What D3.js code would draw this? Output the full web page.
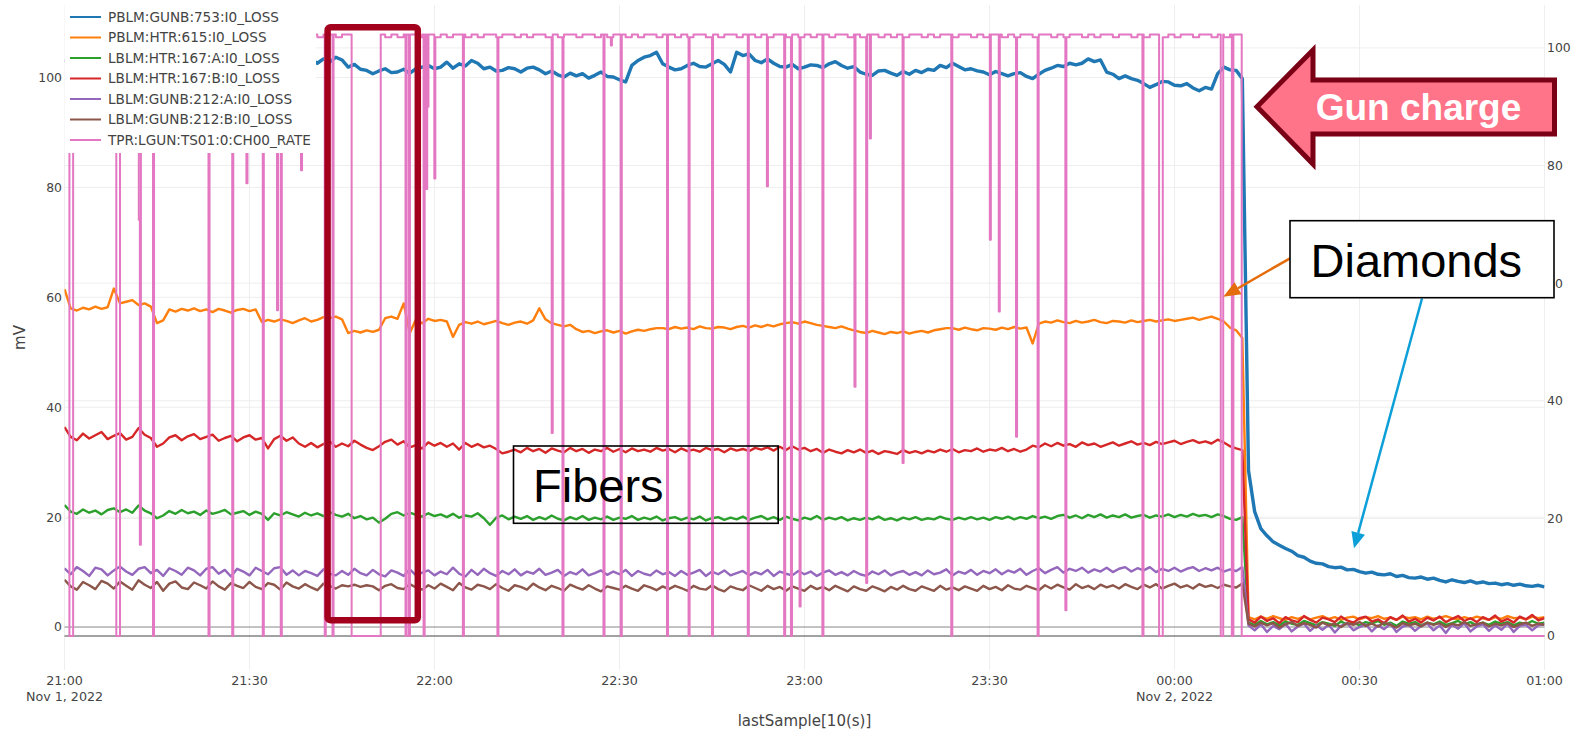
<!DOCTYPE html>
<html>
<head>
<meta charset="utf-8">
<script src="https://cdn.jsdelivr.net/npm/d3@7"></script>
<style>
  html, body { margin: 0; padding: 0; background: #fff; }
  svg { display: block; }
</style>
</head>
<body>
<svg id="chart" width="1583" height="731"></svg>
<script>
// ---------------------------------------------------------------
// Beam-loss monitor readings, one sample per minute from 21:00 (Nov 1)
// to 01:00 (Nov 2); index = minutes after 21:00.
// ---------------------------------------------------------------
const seriesNames = [
  "PBLM:GUNB:753:I0_LOSS",
  "PBLM:HTR:615:I0_LOSS",
  "LBLM:HTR:167:A:I0_LOSS",
  "LBLM:HTR:167:B:I0_LOSS",
  "LBLM:GUNB:212:A:I0_LOSS",
  "LBLM:GUNB:212:B:I0_LOSS",
  "TPR:LGUN:TS01:0:CH00_RATE"
];

const pblmGunb753 = [
  103.2,102.6,103.5,102.9,103.8,103.1,102.7,103.4,102.8,103.6,
  103.0,102.5,103.3,102.9,103.7,103.1,102.6,103.4,103.0,102.7,
  103.5,102.9,103.2,102.6,103.6,103.0,102.8,103.4,102.7,103.3,
  103.0,103.6,102.8,103.2,102.5,103.4,102.9,103.1,103.7,102.8,
  103.3,102.6,103.4,102.8,103.7,103.2,101.9,102.4,101.5,101.3,
  100.7,101.2,101.6,100.9,101.0,101.5,100.8,101.6,101.9,102.2,
  101.6,101.9,102.8,101.7,102.5,102.1,103.1,102.6,101.6,101.9,
  101.2,101.3,101.8,101.6,101.0,101.7,101.9,101.4,100.7,101.2,
  100.5,100.1,100.8,100.3,100.7,99.9,100.4,101.0,100.2,100.1,
  99.6,99.2,102.2,103.1,103.7,104.0,104.6,102.5,101.9,101.4,
  101.6,102.2,102.6,102.0,101.9,102.5,103.1,102.4,101.0,104.6,
  104.0,104.3,103.1,102.7,103.4,102.6,102.0,101.9,102.4,101.6,
  101.9,102.3,102.2,101.8,102.5,102.9,102.2,101.7,102.0,101.0,
  100.6,100.4,101.2,101.3,100.8,100.4,101.1,100.6,101.3,100.9,
  101.5,101.3,102.2,101.8,102.6,102.0,101.4,101.6,101.2,101.0,
  100.5,101.1,100.7,100.3,100.7,100.9,100.2,99.8,100.6,101.3,
  101.7,102.2,102.0,102.6,102.3,102.6,103.4,102.9,103.2,101.0,
  100.6,99.8,100.3,99.8,99.5,98.9,98.2,98.7,99.3,99.2,
  98.6,98.5,98.9,98.1,97.6,98.2,97.9,100.7,101.9,101.4,
  101.3,99.8,28.5,21.0,17.9,16.6,15.5,14.9,14.3,13.8,
  13.0,12.7,12.0,11.6,11.5,11.0,10.8,10.9,10.4,10.5,
  10.1,9.8,10.0,9.6,9.5,9.7,9.2,9.4,9.0,8.9,
  9.1,8.7,8.9,8.5,8.2,8.6,8.3,8.1,8.4,8.0,
  8.2,7.9,8.0,7.7,7.9,7.6,7.8,7.5,7.4,7.6,
  7.3
];

const pblmHtr615 = [
  61.5,58.0,57.6,58.1,57.8,58.3,57.9,58.2,61.6,58.9,
  59.2,59.5,58.6,58.9,58.3,55.3,55.8,57.8,57.4,57.9,
  57.6,58.0,57.5,57.8,57.3,57.9,57.6,57.2,57.7,57.9,
  57.5,57.8,55.5,55.9,55.6,56.0,55.7,55.3,55.8,56.2,
  55.6,55.9,56.4,56.2,56.5,56.0,53.5,53.9,53.6,54.0,
  53.7,54.1,56.2,56.5,56.1,58.9,53.5,56.0,55.3,56.1,
  55.7,55.9,55.6,52.8,55.0,55.5,55.2,55.6,55.1,55.4,
  55.7,55.3,55.0,55.4,55.6,55.2,55.8,58.0,56.0,55.3,
  55.0,54.7,55.0,54.2,53.7,53.9,53.5,53.8,54.0,53.6,
  53.9,53.4,53.8,54.1,53.9,54.2,54.4,54.4,54.2,54.6,
  54.3,54.5,54.2,54.7,54.4,54.3,54.6,54.5,54.2,54.6,
  54.8,54.5,54.9,54.6,55.0,54.7,55.1,55.3,55.5,55.2,
  55.6,55.3,55.0,54.8,54.6,54.4,54.7,54.3,54.0,53.7,
  53.5,53.9,53.6,53.3,53.7,53.5,53.8,53.4,53.7,53.9,
  53.6,54.0,54.2,54.4,54.4,54.1,54.5,54.2,54.0,54.4,
  54.3,54.1,54.5,54.2,54.6,54.3,54.5,51.6,55.2,55.6,
  55.4,55.8,55.5,55.3,55.7,55.4,55.6,55.9,55.5,55.3,
  55.7,55.6,55.4,55.8,55.5,55.7,55.9,55.6,55.8,56.0,
  55.7,55.9,56.1,56.3,55.9,56.2,56.5,56.1,55.6,54.5,
  54.0,52.6,1.8,1.4,1.9,1.5,2.0,1.6,1.3,1.8,
  1.5,1.9,1.4,1.7,2.0,1.5,1.8,1.3,1.7,1.9,
  1.4,1.8,1.6,2.0,1.5,1.7,1.3,1.9,1.6,1.8,
  1.4,1.9,1.5,1.7,2.0,1.6,1.4,1.8,1.5,1.9,
  1.6,1.3,1.8,1.5,2.0,1.6,1.7,1.4,1.9,1.6,
  1.8
];

const lblmHtr167A = [
  22.2,21.0,20.6,21.4,20.8,21.2,20.5,21.3,21.6,20.9,
  21.4,20.8,22.1,21.2,20.7,19.8,20.3,21.1,20.6,21.3,
  20.7,21.0,20.4,21.2,20.6,20.9,21.3,20.5,20.8,21.1,
  20.4,21.0,20.6,19.5,20.7,20.3,20.9,20.5,20.1,20.8,
  20.3,20.7,20.2,20.9,20.4,20.1,20.6,19.8,20.2,19.6,
  19.9,19.0,19.7,20.6,20.9,20.3,20.8,20.4,20.1,20.7,
  20.2,20.5,20.0,20.6,19.9,20.3,20.1,20.7,19.8,18.6,
  19.9,20.3,19.6,20.1,19.7,20.2,19.5,20.0,19.6,20.3,
  19.7,19.4,20.0,19.6,20.2,19.5,19.9,19.6,20.1,19.5,
  19.9,19.7,20.2,19.5,19.9,19.6,20.1,19.4,19.8,20.0,
  19.5,19.9,19.6,20.1,19.4,19.8,20.0,19.5,19.9,19.6,
  20.1,19.5,19.9,20.2,19.6,20.0,19.5,20.1,19.7,19.4,
  19.9,19.6,20.2,19.5,19.9,19.6,20.0,19.4,19.8,19.5,
  19.9,19.6,20.1,19.5,19.8,19.4,19.9,19.6,20.0,19.5,
  19.8,19.6,20.1,19.7,19.5,19.9,19.6,20.0,19.6,19.9,
  19.5,20.0,19.7,20.1,19.6,20.0,19.7,20.2,19.8,20.1,
  19.7,20.2,20.4,19.9,20.3,19.8,20.4,20.0,20.5,19.9,
  20.3,20.0,20.5,19.9,20.2,20.4,19.9,20.3,20.1,20.5,
  20.0,20.4,20.1,20.6,20.2,20.4,20.0,20.5,20.2,19.7,
  19.5,20.0,0.8,0.4,1.1,0.5,0.9,0.3,1.0,0.6,
  0.4,1.1,0.7,0.3,0.9,0.6,0.2,1.0,0.5,0.8,
  0.3,0.9,0.6,1.1,0.4,0.8,0.2,1.0,0.6,0.9,
  0.3,0.8,0.5,1.0,0.4,0.7,1.1,0.5,0.9,0.3,
  0.8,0.4,1.0,0.6,0.9,0.3,0.8,0.5,1.1,0.6,
  0.8
];

const lblmHtr167B = [
  36.4,34.6,34.0,35.2,34.3,34.9,35.5,34.2,34.8,35.3,
  34.1,34.6,36.2,35.0,34.4,32.8,33.4,34.5,34.9,34.0,
  34.7,35.1,34.2,34.6,35.0,33.9,34.4,34.8,33.8,34.5,
  34.9,34.1,34.4,32.5,34.2,34.8,33.9,34.5,33.4,32.8,
  33.5,32.7,33.3,33.8,32.8,33.4,32.9,33.9,33.2,32.6,
  32.2,32.9,33.7,34.1,33.2,33.8,32.7,33.1,32.5,33.6,
  33.0,33.5,32.8,33.4,32.3,33.5,32.8,33.3,32.7,33.0,
  32.4,31.6,31.9,32.3,31.8,32.6,32.0,32.4,31.7,32.5,
  32.1,31.8,32.6,32.0,32.4,31.7,32.3,32.0,32.6,31.9,
  32.4,31.8,32.5,32.0,32.3,31.9,32.6,32.1,32.4,31.8,
  32.5,32.0,32.3,31.9,32.6,32.2,32.4,31.8,32.5,32.1,
  32.4,32.0,32.6,32.3,32.7,32.1,32.8,32.2,32.9,32.3,
  32.6,32.0,32.4,31.7,32.3,31.9,31.6,32.2,31.8,32.3,
  31.7,32.1,31.5,32.0,31.8,31.5,32.2,31.7,32.0,31.6,
  32.1,31.8,32.3,31.9,32.4,31.8,32.2,32.0,32.5,31.9,
  32.3,32.1,32.6,32.0,32.4,31.9,32.3,33.0,32.7,33.4,
  32.9,33.5,33.0,33.3,32.8,33.6,33.1,33.4,32.8,33.2,
  33.6,33.0,33.4,33.8,33.2,33.5,33.1,33.7,33.3,33.6,
  33.9,33.3,33.7,34.0,33.5,33.8,33.4,34.1,33.6,32.9,
  32.5,32.2,1.4,0.8,1.9,1.1,1.6,0.7,1.8,1.2,
  0.9,2.0,1.3,0.8,1.7,1.4,0.9,1.9,1.2,0.8,
  1.6,1.9,1.0,1.4,0.7,1.8,1.3,2.1,1.0,1.5,
  0.8,1.7,1.2,1.9,0.9,1.5,2.0,1.1,1.6,0.9,
  1.8,1.3,2.1,1.0,1.5,0.8,1.9,1.4,2.2,1.2,
  1.6
];

const lblmGunb212A = [
  10.7,9.6,10.9,10.2,9.3,10.8,10.5,9.4,10.3,11.0,
  10.1,9.5,10.6,10.9,9.8,10.4,9.3,10.7,10.2,9.5,
  10.8,10.3,9.4,10.6,10.9,9.7,10.4,9.2,10.6,10.1,
  9.4,10.8,10.2,9.6,10.7,10.9,9.5,10.3,9.4,10.2,
  9.8,9.3,10.5,9.7,9.4,10.2,9.5,10.6,9.8,9.4,
  10.4,9.6,9.2,10.3,9.9,9.3,10.5,9.4,9.9,10.3,
  9.4,10.1,9.6,10.8,9.7,9.2,10.4,9.5,10.6,9.8,
  9.3,10.2,9.6,10.5,9.4,10.1,9.7,10.6,9.5,9.9,
  10.4,9.3,10.0,9.6,10.5,9.4,9.8,10.3,9.5,10.1,
  9.6,10.4,9.3,10.2,9.7,9.4,10.3,9.6,10.0,9.3,
  10.2,9.5,9.9,10.4,9.3,10.1,9.6,10.3,9.4,9.8,
  10.2,9.4,10.0,9.6,10.4,9.3,10.1,9.7,9.4,10.2,
  9.6,10.1,9.3,9.9,10.3,9.5,10.0,9.4,10.2,9.6,
  9.3,10.1,9.6,10.3,9.4,9.9,10.2,9.5,10.0,9.4,
  10.3,9.6,9.9,10.5,9.4,10.1,9.7,10.4,9.5,10.2,
  9.8,10.5,9.6,10.3,9.9,10.6,9.5,10.2,10.7,9.8,
  10.4,10.9,9.9,10.6,10.2,10.8,9.9,10.5,10.1,10.8,
  10.0,10.6,10.9,10.1,10.7,10.3,10.9,10.0,10.6,10.2,
  10.8,10.1,10.6,10.9,10.2,10.7,10.3,10.8,10.1,10.5,
  10.2,10.9,0.3,-0.6,0.5,-0.9,0.2,-0.4,0.6,-0.8,
  0.1,0.6,-0.7,0.3,-0.5,0.4,-1.0,0.2,0.7,-0.6,
  0.0,0.5,-0.8,0.3,-0.4,0.6,-0.9,0.1,0.4,-0.7,
  0.2,0.6,-0.6,0.3,-1.1,0.4,-0.3,0.7,-0.8,0.1,
  0.5,-0.7,0.3,-0.5,0.6,-0.9,0.2,0.4,-0.6,0.3,
  0.5
];

const lblmGunb212B = [
  8.6,7.4,6.8,8.2,7.6,6.9,8.4,7.9,7.0,8.3,
  7.5,6.8,8.5,7.7,7.1,8.2,6.6,7.9,8.3,7.2,
  6.9,8.1,7.6,7.0,8.3,7.4,6.8,8.0,7.5,7.1,
  8.2,7.3,6.9,8.0,7.7,6.8,8.1,7.4,7.0,7.8,
  7.2,6.7,7.9,7.5,7.0,7.6,7.4,7.7,7.3,7.6,
  7.4,6.7,7.5,7.8,7.1,6.9,7.8,7.2,6.8,7.6,
  7.0,7.9,7.3,6.7,8.0,7.2,6.8,7.7,7.4,6.9,
  7.8,7.1,6.6,7.6,7.3,6.8,7.9,7.2,6.7,7.5,
  7.1,6.6,7.7,7.2,6.8,7.6,7.0,6.5,7.4,7.1,
  6.8,7.5,7.0,6.6,7.6,7.2,6.7,7.4,6.9,7.5,
  7.1,6.6,7.5,7.0,6.8,7.6,6.9,6.5,7.4,7.0,
  6.7,7.6,7.1,6.6,7.5,6.9,7.3,6.6,7.4,7.0,
  6.6,7.5,6.9,7.3,6.7,7.5,7.0,6.5,7.4,6.9,
  6.6,7.4,7.0,6.5,7.3,6.8,7.5,6.9,6.6,7.4,
  7.0,6.6,7.5,6.8,7.2,6.7,7.4,7.0,6.6,7.5,
  6.9,7.3,6.7,7.6,7.0,6.8,7.5,7.1,6.7,7.6,
  7.0,7.7,7.2,6.8,7.8,7.1,7.5,6.9,7.7,7.2,
  7.6,7.0,7.8,7.3,6.9,7.7,7.2,7.8,7.0,7.5,
  7.9,7.2,7.6,7.0,7.8,7.3,7.6,7.1,7.7,7.4,
  7.2,7.9,0.6,0.1,0.8,0.3,0.7,-0.1,0.5,0.9,
  0.2,0.7,0.4,-0.1,0.8,0.3,0.6,0.0,0.7,0.4,
  0.9,0.2,0.6,0.1,0.8,0.4,-0.1,0.7,0.3,0.6,
  0.1,0.8,0.4,0.7,0.0,0.6,0.3,0.9,0.2,0.5,
  0.8,0.1,0.6,0.3,0.7,0.0,0.5,0.8,0.2,0.6,
  0.4
];

// Trigger rate (right axis): per-minute level while running (minutes 0..190)
const rateLevel = [
  102.3,101.8,102.3,102.3,101.8,102.3,101.8,102.3,102.3,101.8,
  102.3,102.3,101.8,102.3,101.8,102.3,102.3,101.8,102.3,101.8,
  102.3,101.8,102.3,102.3,101.8,102.3,102.3,101.8,102.3,101.8,
  102.3,102.3,101.8,102.3,101.8,102.3,101.8,102.3,102.3,101.8,
  102.3,101.8,102.3,102.3,101.8,102.3,102.3,101.8,102.3,101.8,
  102.3,102.3,101.8,102.3,101.8,102.3,102.3,101.8,102.3,102.3,
  101.8,102.3,101.8,102.3,102.3,101.8,102.3,101.8,102.3,102.3,
  101.8,102.3,102.3,101.8,102.3,101.8,102.3,102.3,101.8,102.3,
  101.8,102.3,102.3,101.8,102.3,102.3,101.8,102.3,101.8,102.3,
  102.3,101.8,102.3,101.8,102.3,102.3,101.8,102.3,102.3,101.8,
  102.3,101.8,102.3,102.3,101.8,102.3,101.8,102.3,102.3,101.8,
  102.3,102.3,101.8,102.3,101.8,102.3,102.3,101.8,102.3,101.8,
  102.3,101.8,102.3,102.3,101.8,102.3,102.3,101.8,102.3,101.8,
  102.3,102.3,101.8,102.3,101.8,102.3,101.8,102.3,102.3,101.8,
  102.3,101.8,102.3,102.3,101.8,102.3,102.3,101.8,102.3,101.8,
  102.3,102.3,101.8,102.3,101.8,102.3,102.3,101.8,102.3,102.3,
  101.8,102.3,101.8,102.3,102.3,101.8,102.3,101.8,102.3,102.3,
  101.8,102.3,102.3,101.8,102.3,101.8,102.3,102.3,101.8,102.3,
  101.8,102.3,102.3,101.8,102.3,102.3,101.8,102.3,101.8,102.3,
  102.3
];

// Rate drop-outs: [start minute, rate during drop-out, duration in minutes]
const rateDropouts = [
  [0.8, 0, 0.6], [8.4, 0, 0.6], [12.05, 70.8, 0.17], [12.22, 15.5, 0.17],
  [14.35, 0, 0.17], [23.35, 0, 0.17], [27.2, 0, 0.17], [29.5, 77, 0.17],
  [32.15, 0, 0.17], [34.46, 55.4, 0.17], [35.07, 0, 0.17], [38.35, 79.2, 0.17],
  [42.2, 0, 0.17], [43.46, 0, 0.17], [46.56, 0, 4.72], [55.3, 0, 0.17],
  [55.85, 0, 0.17], [58.23, 0, 0.17], [58.45, 94, 0.17], [58.65, 76, 0.17],
  [58.85, 90, 0.17], [59.97, 77.8, 0.17], [64.6, 0, 0.17], [70.2, 0, 0.17],
  [79.0, 34.5, 0.17], [80.75, 0, 0.17], [87.4, 0, 0.17], [88.6, 100.4, 0.17],
  [90.2, 0, 0.17], [97.7, 0, 0.17], [101.2, 0, 0.17], [105.0, 0, 0.17],
  [110.8, 0, 0.17], [113.9, 76.5, 0.17], [116.7, 0, 0.17], [117.8, 0, 0.17],
  [119.2, 5.0, 0.17], [122.9, 0, 0.17], [128.1, 42.4, 0.17], [130.0, 9.0, 0.17],
  [130.6, 84.6, 0.17], [135.9, 29.4, 0.17], [143.8, 0, 0.17], [150.05, 67.4, 0.17],
  [151.5, 55.2, 0.17], [154.3, 33.9, 0.17], [157.8, 0, 0.17], [162.3, 4.4, 0.17],
  [174.8, 0, 0.17], [177.5, 0, 0.6], [187.5, 0, 0.4], [189.3, 0, 0.25],
  [190.9, 0, 49.1]
];

const colors = ["#1f77b4", "#ff7f0e", "#2ca02c", "#d62728", "#9467bd", "#8c564b", "#e377c2"];
const lineWidths = [3.4, 2.4, 2.4, 2.4, 2.4, 2.4];

// ---------------------------------------------------------------
// Layout
// ---------------------------------------------------------------
const plot = { left: 64.5, right: 1544.5, top: 5, bottom: 670 };
const startTime = new Date(2022, 10, 1, 21, 0, 0);
const at = m => new Date(startTime.getTime() + m * 60000);

const x = d3.scaleTime().domain([at(0), at(240)]).range([plot.left, plot.right]);
const yL = d3.scaleLinear().domain([-7.82, 113.2]).range([plot.bottom, plot.top]);
const yR = d3.scaleLinear().domain([-5.78, 107.3]).range([plot.bottom, plot.top]);

const tickFont = "DejaVu Sans, Verdana, sans-serif";
const svg = d3.select("#chart");

svg.append("defs").append("clipPath").attr("id", "plotClip")
  .append("rect")
  .attr("x", plot.left).attr("y", plot.top)
  .attr("width", plot.right - plot.left).attr("height", plot.bottom - plot.top);

// Grid
const xTicks = x.ticks(d3.timeMinute.every(30));
const grid = svg.append("g").attr("stroke", "#eee").attr("stroke-width", 1);
grid.selectAll("line.v").data(xTicks).join("line")
  .attr("x1", d => x(d)).attr("x2", d => x(d))
  .attr("y1", plot.top).attr("y2", plot.bottom);
const yTicks = [0, 20, 40, 60, 80, 100];
grid.selectAll("line.hl").data(yTicks.slice(1)).join("line").attr("class", "hl")
  .attr("x1", plot.left).attr("x2", plot.right)
  .attr("y1", d => yL(d)).attr("y2", d => yL(d));
grid.selectAll("line.hr").data(yTicks.slice(1)).join("line").attr("class", "hr")
  .attr("x1", plot.left).attr("x2", plot.right)
  .attr("y1", d => yR(d)).attr("y2", d => yR(d));
svg.append("line").attr("x1", plot.left).attr("x2", plot.right)
  .attr("y1", yL(0)).attr("y2", yL(0)).attr("stroke", "#888").attr("stroke-width", 1);
svg.append("line").attr("x1", plot.left).attr("x2", plot.right)
  .attr("y1", yR(0)).attr("y2", yR(0)).attr("stroke", "#444").attr("stroke-width", 1);

// Traces
const lineL = d3.line().x(d => x(at(d[0]))).y(d => yL(d[1]));
const lineR = d3.line().curve(d3.curveStepAfter).x(d => x(at(d[0]))).y(d => yR(d[1]));
const leftSeries = [pblmGunb753, pblmHtr615, lblmHtr167A, lblmHtr167B, lblmGunb212A, lblmGunb212B];

const traces = svg.append("g").attr("clip-path", "url(#plotClip)").attr("fill", "none");
leftSeries.forEach((vals, i) => {
  traces.append("path")
    .attr("d", lineL(vals.map((v, m) => [m, v])))
    .attr("stroke", colors[i]).attr("stroke-width", lineWidths[i])
    .attr("stroke-linejoin", "round");
});

// Trigger rate: minute levels combined with the drop-out list
const breaks = new Set(d3.range(0, 241));
rateDropouts.forEach(([s, , d]) => { breaks.add(s); breaks.add(+(s + d).toFixed(3)); });
const rateAt = t => {
  const hit = rateDropouts.find(([s, , d]) => t >= s && t < s + d - 1e-9);
  if (hit) return hit[1];
  const lv = rateLevel[Math.floor(t)];
  return lv === undefined ? 0 : lv;
};
const ratePoints = Array.from(breaks).sort((a, b) => a - b).map(t => [t, rateAt(t)]);
traces.append("path")
  .attr("d", lineR(ratePoints))
  .attr("stroke", colors[6]).attr("stroke-width", 2)
  .attr("stroke-linejoin", "round");

// Axes labels
const axisText = svg.append("g").attr("font-family", tickFont).attr("fill", "#444");
axisText.selectAll("text.yl").data(yTicks).join("text")
  .attr("x", 62).attr("y", d => yL(d)).attr("dy", "0.36em")
  .attr("text-anchor", "end").attr("font-size", 12.4).text(d => d);
axisText.selectAll("text.yr").data(yTicks).join("text")
  .attr("x", 1547).attr("y", d => yR(d)).attr("dy", "0.36em")
  .attr("text-anchor", "start").attr("font-size", 12.4).text(d => d);

const fmtTime = d3.timeFormat("%H:%M");
const fmtDay = d3.timeFormat("%b %-d, %Y");
const xt = axisText.selectAll("g.xt").data(xTicks).join("g")
  .attr("transform", d => `translate(${x(d)},0)`);
xt.append("text").attr("y", 684.5).attr("text-anchor", "middle")
  .attr("font-size", 12.7).text(d => fmtTime(d));
xt.filter((d, i) => i === 0 || (d.getHours() === 0 && d.getMinutes() === 0))
  .append("text").attr("y", 701).attr("text-anchor", "middle")
  .attr("font-size", 12.7).text(d => fmtDay(d));

axisText.append("text").attr("x", (plot.left + plot.right) / 2).attr("y", 725.5)
  .attr("text-anchor", "middle").attr("font-size", 15).text("lastSample[10(s)]");
axisText.append("text")
  .attr("transform", `translate(25,${(plot.top + plot.bottom) / 2}) rotate(-90)`)
  .attr("text-anchor", "middle").attr("font-size", 15).text("mV");

// Legend
const legend = svg.append("g");
legend.append("rect").attr("x", plot.left).attr("y", plot.top)
  .attr("width", 316 - plot.left).attr("height", 153 - plot.top).attr("fill", "#fff");
const items = legend.selectAll("g.item").data(seriesNames).join("g")
  .attr("transform", (d, i) => `translate(0,${17 + i * 20.5})`);
items.append("line").attr("x1", 70).attr("x2", 101).attr("y1", 0).attr("y2", 0)
  .attr("stroke", (d, i) => colors[i]).attr("stroke-width", 2);
items.append("text").attr("x", 108).attr("y", 0).attr("dy", "0.36em")
  .attr("font-family", tickFont).attr("font-size", 13.6).attr("fill", "#444")
  .text(d => d);

// ---------------------------------------------------------------
// Callouts
// ---------------------------------------------------------------
const notes = svg.append("g").attr("font-family", "Liberation Sans, Arial, sans-serif");

// highlighted interval
notes.append("rect")
  .attr("x", 327.6).attr("y", 27.2).attr("width", 417.8 - 327.6).attr("height", 620.3 - 27.2)
  .attr("rx", 3).attr("fill", "none").attr("stroke", "#a3001e").attr("stroke-width", 6.5);

// "Fibers" label
notes.append("rect").attr("x", 513.5).attr("y", 446).attr("width", 264.7).attr("height", 77.3)
  .attr("fill", "none").attr("stroke", "#000").attr("stroke-width", 1.6);
notes.append("text").attr("x", 533).attr("y", 501.5).attr("font-size", 47)
  .attr("fill", "#000").text("Fibers");

function arrow(x1, y1, x2, y2, color, w, headLen, headW) {
  const a = Math.atan2(y2 - y1, x2 - x1);
  const bx = x2 - headLen * Math.cos(a), by = y2 - headLen * Math.sin(a);
  const nx = -Math.sin(a) * headW / 2, ny = Math.cos(a) * headW / 2;
  notes.append("line").attr("x1", x1).attr("y1", y1).attr("x2", bx).attr("y2", by)
    .attr("stroke", color).attr("stroke-width", w);
  notes.append("path")
    .attr("d", `M${x2},${y2}L${bx + nx},${by + ny}L${bx - nx},${by - ny}Z`)
    .attr("fill", color);
}
arrow(1290, 258.3, 1223.3, 296.7, "#e46c0a", 2.5, 17, 14);
arrow(1422, 298.5, 1354, 548.3, "#0d9fd8", 2.5, 16, 14);

// "Diamonds" label
notes.append("rect").attr("x", 1290).attr("y", 220.7).attr("width", 264).attr("height", 77)
  .attr("fill", "#fff").attr("stroke", "#000").attr("stroke-width", 1.6);
notes.append("text").attr("x", 1310.5).attr("y", 277.3).attr("font-size", 47)
  .attr("fill", "#000").text("Diamonds");

// "Gun charge" block arrow
notes.append("path")
  .attr("d", "M1257,106.7 L1313,50 L1313,80 L1554.5,80 L1554.5,134 L1313,134 L1313,164 Z")
  .attr("fill", "#ff7489").attr("stroke", "#7a0016").attr("stroke-width", 5)
  .attr("stroke-linejoin", "miter");
notes.append("text").attr("x", 1418.5).attr("y", 120).attr("text-anchor", "middle")
  .attr("font-size", 37).attr("font-weight", "bold").attr("fill", "#fff").text("Gun charge");
</script>
</body>
</html>
